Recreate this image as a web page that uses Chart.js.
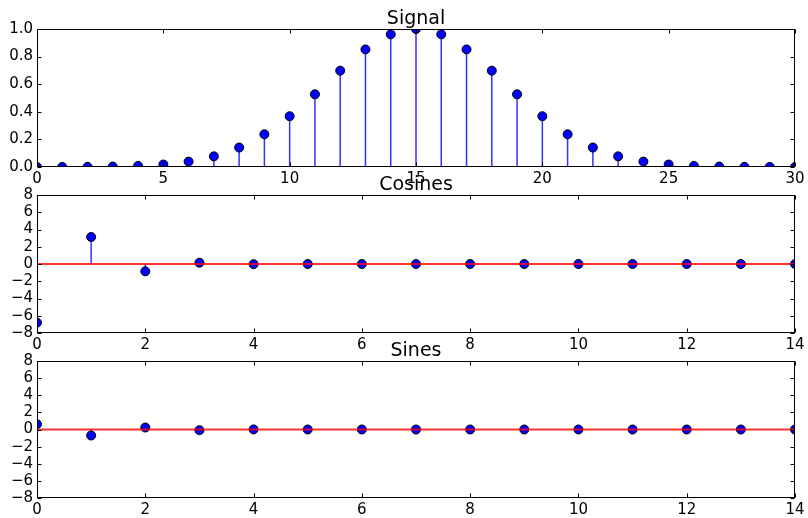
<!DOCTYPE html>
<html>
<head>
<meta charset="utf-8">
<script src="https://cdn.jsdelivr.net/npm/chart.js@4.4.1/dist/chart.umd.min.js"></script>
<style>
  body { margin: 0; background: #fff; }
  #wrap { position: relative; width: 808px; height: 518px; }
  canvas { position: absolute; left: 0; }
</style>
</head>
<body>
<div id="wrap">
  <canvas id="signalChart" width="808" height="190" style="top:0px"></canvas>
  <canvas id="cosChart" width="808" height="185" style="top:170px"></canvas>
  <canvas id="sinChart" width="808" height="182" style="top:336px"></canvas>
</div>
<script>
// signal samples 0..30
const signalX = [0, 1, 2, 3, 4, 5, 6, 7, 8, 9, 10, 11, 12, 13, 14, 15,
  16, 17, 18, 19, 20, 21, 22, 23, 24, 25, 26, 27, 28, 29, 30];
const signalY = [0.0001, 0.0004, 0.0012, 0.0032, 0.008, 0.018, 0.039, 0.077, 0.141, 0.237,
  0.368, 0.527, 0.698, 0.852, 0.961, 1.0, 0.961, 0.852, 0.698, 0.527,
  0.368, 0.237, 0.141, 0.077, 0.039, 0.018, 0.008, 0.0032, 0.0012, 0.0004, 0.0001];

// cosine / sine coefficients 0..14
const coefX = [0, 1, 2, 3, 4, 5, 6, 7, 8, 9, 10, 11, 12, 13, 14];
const cosY = [-6.8, 3.13, -0.85, 0.15, -0.02, 0, 0, 0, 0, 0, 0, 0, 0, 0, 0];
const sinY = [0.62, -0.7, 0.23, -0.08, 0.01, 0, 0, 0, 0, 0, 0, 0, 0, 0, 0];

const signalTicks = { min: 0, max: 1, step: 0.2 };
const coefTicks = { min: -8, max: 8, step: 2 };

Chart.defaults.font.family = "DejaVu Sans";
Chart.defaults.font.size = 15;
Chart.defaults.color = "#000";

const framePlugin = {
  id: "frame",
  afterDatasetsDraw(chart, args, opts) {
    const a = chart.chartArea;
    const ctx = chart.ctx;
    const l = Math.round(a.left) + 0.5, r = Math.round(a.right) - 0.5;
    const t = Math.round(a.top) + 0.5, b = Math.round(a.bottom) - 0.5;
    ctx.save();
    ctx.strokeStyle = "#000";
    ctx.lineWidth = 1;
    ctx.strokeRect(l, t, r - l, b - t);
    ctx.beginPath();
    chart.scales.x.ticks.forEach((tk) => {
      const px = Math.round(chart.scales.x.getPixelForValue(tk.value)) + 0.5;
      ctx.moveTo(px, b); ctx.lineTo(px, b - 4);
      ctx.moveTo(px, t); ctx.lineTo(px, t + 4);
    });
    chart.scales.y.ticks.forEach((tk) => {
      const py = Math.round(chart.scales.y.getPixelForValue(tk.value)) + 0.5;
      ctx.moveTo(l, py); ctx.lineTo(l + 4, py);
      ctx.moveTo(r, py); ctx.lineTo(r - 4, py);
    });
    ctx.stroke();
    ctx.font = "19px DejaVu Sans";
    ctx.fillStyle = "#000";
    ctx.textAlign = "center";
    ctx.textBaseline = "alphabetic";
    ctx.fillText(opts.title, (a.left + a.right) / 2, a.top - 5);
    ctx.restore();
  },
};

function stemData(xs, ys) {
  const pts = [];
  xs.forEach((x, i) => {
    pts.push({ x: x, y: 0 }, { x: x, y: ys[i] }, { x: x, y: null });
  });
  return pts;
}

function makeStemChart(id, title, xs, ys, xStep, yt, yFmt, padTop, axisHeight) {
  const ctx = document.getElementById(id).getContext("2d");
  const xMin = xs[0], xMax = xs[xs.length - 1];
  return new Chart(ctx, {
    type: "scatter",
    data: {
      datasets: [
        {
          label: "baseline",
          data: [{ x: xMin, y: 0 }, { x: xMax, y: 0 }],
          showLine: true,
          borderColor: "rgba(255, 0, 0, 0.8)",
          borderWidth: 2,
          pointRadius: 0,
          clip: 0,
          order: 0,
        },
        {
          label: "markers",
          data: xs.map((x, i) => ({ x: x, y: ys[i] })),
          backgroundColor: "#0000ff",
          borderColor: "#000",
          borderWidth: 1,
          pointRadius: 4.5,
          clip: 0,
          order: 1,
        },
        {
          label: "stems",
          data: stemData(xs, ys),
          showLine: true,
          spanGaps: false,
          borderColor: "rgba(0, 0, 255, 0.8)",
          borderWidth: 1.5,
          pointRadius: 0,
          clip: 0,
          order: 2,
        },
      ],
    },
    options: {
      responsive: false,
      animation: false,
      layout: { padding: { top: padTop, right: 13, left: 0, bottom: 0 } },
      plugins: {
        legend: { display: false },
        tooltip: { enabled: false },
        frame: { title: title },
      },
      scales: {
        x: {
          type: "linear",
          min: xMin,
          max: xMax,
          grid: { display: false, drawTicks: false },
          border: { display: false },
          ticks: { stepSize: xStep, padding: 3, maxRotation: 0, autoSkip: false },
          afterFit: (scale) => { scale.height = axisHeight; },
        },
        y: {
          min: yt.min,
          max: yt.max,
          grid: { display: false, drawTicks: false },
          border: { display: false },
          ticks: { stepSize: yt.step, padding: 4, autoSkip: false, callback: yFmt },
          afterFit: (scale) => { scale.width = 37; },
        },
      },
    },
    plugins: [framePlugin],
  });
}

const fmtSignal = (v) => v.toFixed(1);
const fmtCoef = (v) => (v < 0 ? "\u2212" + Math.abs(v) : String(v));

makeStemChart("signalChart", "Signal", signalX, signalY, 5, signalTicks, fmtSignal, 29, 23);
makeStemChart("cosChart", "Cosines", coefX, cosY, 2, coefTicks, fmtCoef, 25, 22);
makeStemChart("sinChart", "Sines", coefX, sinY, 2, coefTicks, fmtCoef, 25, 20);
</script>
</body>
</html>
